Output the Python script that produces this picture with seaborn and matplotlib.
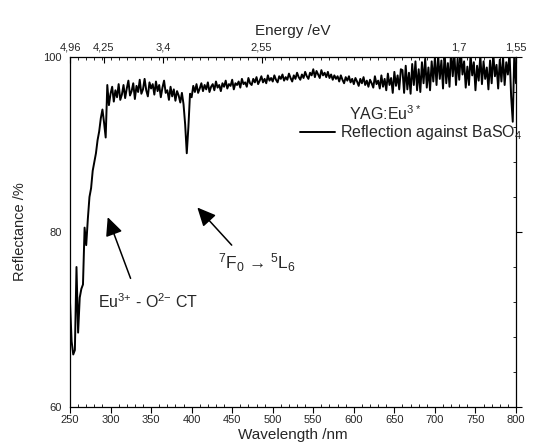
import numpy as np
import pandas as pd
import matplotlib
matplotlib.use("Agg")
import matplotlib.pyplot as plt
import seaborn as sns
from matplotlib.ticker import MultipleLocator

wavelength_start = 250
wavelength_step = 2
reflectance = [
    72.0, 67.5, 66.0, 66.5, 76.0, 68.5, 72.5, 73.5, 74.0, 80.5,  # 250-268
    78.5, 81.5, 84.0, 85.0, 87.0, 88.0, 89.0, 90.5, 91.5, 93.0,  # 270-288
    94.0, 92.5, 90.8, 96.8, 94.5,                                # 290-298
    95.8, 96.6, 94.9, 96.2, 95.4, 96.9, 95.1, 95.7, 96.8, 95.3,  # 300-318
    96.4, 97.3, 95.6, 96.1, 97.0, 95.2, 96.7, 96.0, 97.4, 95.8,  # 320-338
    96.3, 97.5, 96.2, 95.5, 97.1, 96.4, 96.9, 95.7, 97.2, 96.1,  # 340-358
    96.8, 95.4, 96.5, 97.3, 95.9, 96.2, 95.1, 96.6, 95.5, 96.3,  # 360-378
    95.0, 96.1, 95.6, 94.8, 95.9, 94.6, 92.3, 89.0, 92.0, 95.8,  # 380-398
    95.4, 96.7, 96.0, 96.9, 95.9, 96.4, 97.0, 96.1, 96.8, 96.3,  # 400-418
    97.1, 96.0, 96.6, 96.9, 96.2, 97.2, 96.5, 96.8, 96.1, 97.0,  # 420-438
    96.6, 97.3, 96.4, 96.9, 96.7, 97.4, 96.3, 97.0, 96.8, 97.2,  # 440-458
    96.5, 97.5, 96.9, 97.1, 96.6, 97.6, 97.0, 96.8, 97.5, 97.1,  # 460-478
    97.7, 96.9, 97.3, 97.8, 97.1, 97.5, 97.0, 97.9, 97.3, 97.6,  # 480-498
    97.2, 97.9, 97.4, 97.1, 97.8, 97.5, 98.0, 97.3, 97.7, 97.4,  # 500-518
    98.1, 97.6, 97.2, 97.9, 97.5, 98.2, 97.7, 97.4, 98.0, 97.6,  # 520-538
    98.3, 97.8, 97.5, 98.2, 97.9, 98.6, 97.7, 98.4, 98.0, 97.6,  # 540-558
    98.5, 97.9, 98.2, 97.7, 98.3, 97.6, 98.0, 97.4, 97.9, 97.5,  # 560-578
    97.8, 97.2, 97.9, 97.4, 97.0, 97.7, 97.3, 97.8, 97.1, 97.5,  # 580-598
    96.9, 97.6, 97.2, 96.7, 97.5, 97.0, 97.7, 96.8, 97.3, 96.6,  # 600-618
    97.4, 97.0, 96.5, 97.8, 96.9, 97.3, 96.4, 97.9, 96.6, 97.5,  # 620-638
    96.2, 98.1, 96.8, 97.6, 95.9, 98.3, 96.7, 97.9, 96.3, 98.6,  # 640-658
    98.5, 95.9, 99.0, 96.3, 98.2, 95.8, 99.2, 96.8, 99.5, 96.2,  # 660-678
    98.6, 96.0, 99.4, 97.0, 99.8, 96.5, 98.8, 96.2, 99.5, 97.2,  # 680-698
    99.9, 96.8, 100.2, 97.5, 99.6, 96.4, 100.5, 97.0, 99.3, 96.6,  # 700-718
    100.8, 97.8, 100.4, 96.8, 99.8, 97.4, 100.6, 98.0, 99.5, 96.5,  # 720-738
    98.9, 96.8, 100.3, 97.9, 99.4, 96.2, 99.0, 97.3, 100.2, 96.9,  # 740-758
    99.5, 97.5, 98.8, 96.3, 99.6, 97.0, 100.4, 97.8, 99.1, 96.4,  # 760-778
    99.7, 97.2, 100.0, 96.8, 99.4, 98.0, 100.5, 95.5, 92.6, 100.8,  # 780-798
    97.0,                                                          # 800
]
wavelength = [wavelength_start + wavelength_step * i for i in range(len(reflectance))]

energy_ticks = [4.96, 4.25, 3.4, 2.55, 1.7, 1.55]
energy_labels = ["4,96", "4,25", "3,4", "2,55", "1,7", "1,55"]
wl_ticks = [250, 300, 350, 400, 450, 500, 550, 600, 650, 700, 750, 800]
refl_ticks = [60, 80, 100]

df = pd.DataFrame({"Wavelength": wavelength, "Reflectance": reflectance})

sns.set_theme(style="white")
plt.rcParams["font.family"] = ["Liberation Sans", "DejaVu Sans"]
plt.rcParams["mathtext.default"] = "regular"

fig = plt.figure(figsize=(5.34, 4.48), dpi=100)
ax = fig.add_axes([70 / 534, 1 - 407 / 448, 446 / 534, 350 / 448])

sns.lineplot(data=df, x="Wavelength", y="Reflectance", ax=ax, color="black",
             linewidth=1.4, label="Reflection against BaSO$_4$")

ax.set_xlim(250, 800)
ax.set_ylim(60, 100)
ax.set_xticks(wl_ticks)
ax.set_yticks(refl_ticks)
ax.xaxis.set_minor_locator(MultipleLocator(10))
ax.yaxis.set_minor_locator(MultipleLocator(4))
ax.tick_params(axis="both", which="major", labelsize=8, length=4, width=0.8,
               direction="out", color="black", pad=2)
ax.tick_params(axis="both", which="minor", length=2, width=0.6, direction="in",
               color="black")
ax.tick_params(axis="y", which="both", right=True)
ax.set_xlabel("Wavelength /nm", fontsize=11, labelpad=2)
ax.set_ylabel("Reflectance /%", fontsize=10.5, labelpad=12)
for s in ax.spines.values():
    s.set_color("black")
    s.set_linewidth(0.9)

ax2 = ax.twiny()
ax2.set_xlim(ax.get_xlim())
ax2.set_xticks([1240 / e for e in energy_ticks])
ax2.set_xticklabels(energy_labels)
ax2.xaxis.set_minor_locator(MultipleLocator(10))
ax2.tick_params(axis="x", which="major", labelsize=8, length=4, width=0.8,
                direction="in", color="black", pad=3)
ax2.tick_params(axis="x", which="minor", length=2, width=0.6, direction="in", color="black")
ax2.set_xlabel("Energy /eV", fontsize=11, labelpad=6)
for s in ax2.spines.values():
    s.set_visible(False)

leg = ax.legend(loc="center left", bbox_to_anchor=(0.515, 0.783), frameon=False,
                fontsize=11.5, handlelength=2.2, handletextpad=0.3,
                borderpad=0, borderaxespad=0)
ax.text(0.707, 0.838, "YAG:Eu$^{3*}$", transform=ax.transAxes, fontsize=11.5,
        ha="center", va="center")

arrow_style = dict(arrowstyle="-|>,head_length=0.75,head_width=0.35", color="black",
                   lw=1.1, mutation_scale=15, shrinkA=0, shrinkB=0)
ax.annotate("", xy=(296.5, 81.7), xytext=(324.7, 74.7), arrowprops=arrow_style)
ax.text(284, 72.0, "Eu$^{3{+}}$ - O$^{2{-}}$ CT", fontsize=11.5, ha="left", va="center")
ax.annotate("", xy=(407, 82.8), xytext=(449.4, 78.5), arrowprops=arrow_style)
ax.text(432, 76.5, "$^7$F$_0$ \u2192 $^5$L$_6$", fontsize=12.5, ha="left", va="center")

fig.savefig("out.png", dpi=100)
